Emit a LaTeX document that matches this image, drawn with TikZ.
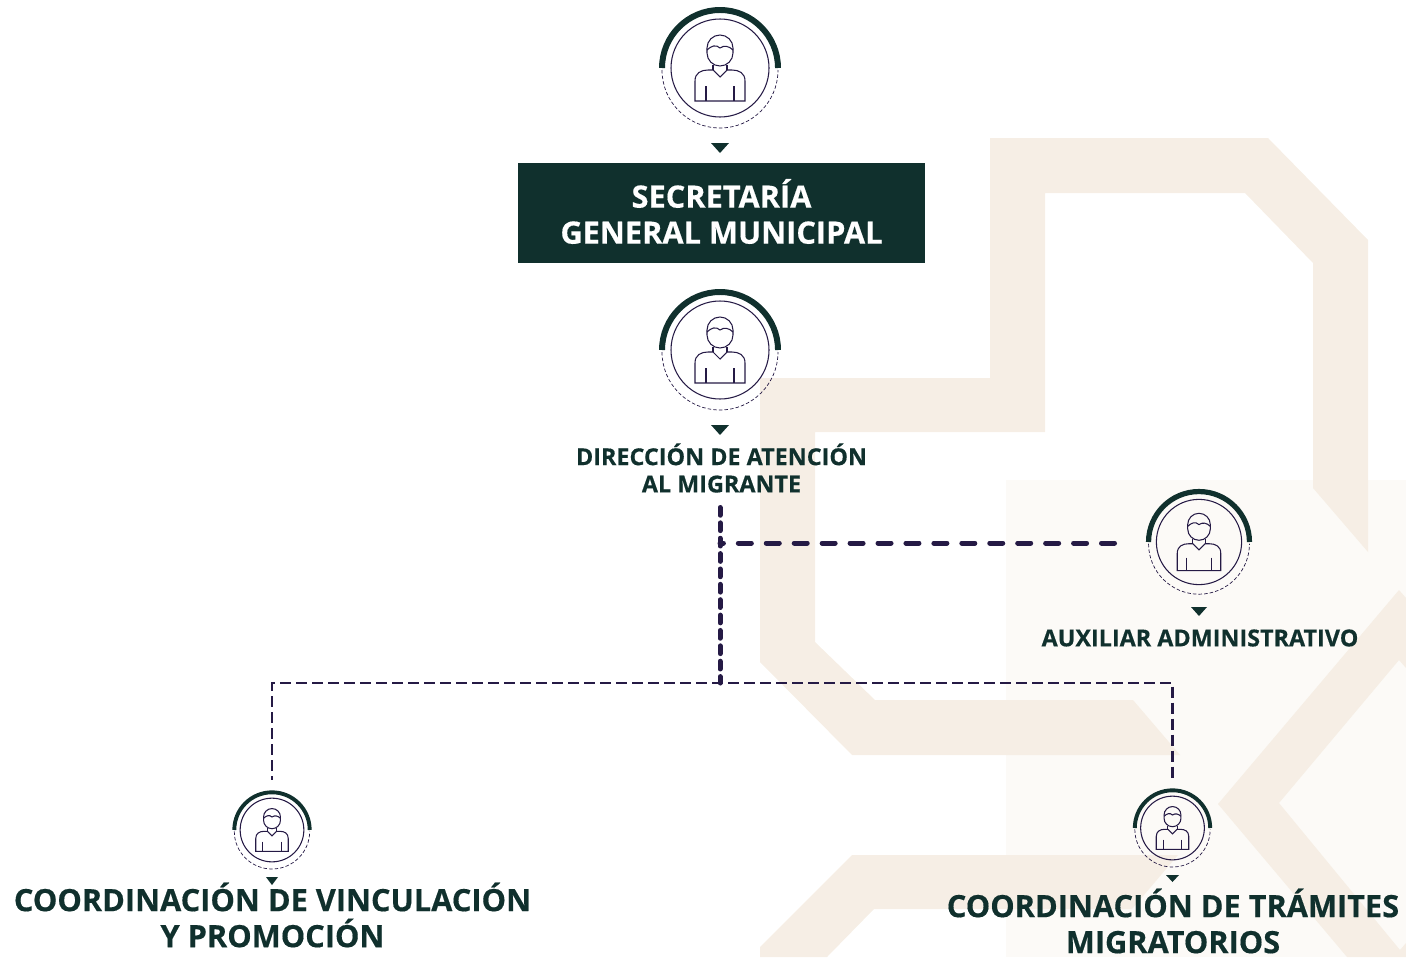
\documentclass[tikz,border=0pt]{standalone}
\usepackage{fontspec}
\setmainfont[BoldFeatures={FakeBold=0.4}]{Open Sans}
\definecolor{pine}{HTML}{10302D}
\definecolor{ink}{HTML}{251A45}
\definecolor{sand}{HTML}{F6EEE5}
\definecolor{paper}{HTML}{FCFAF7}
\tikzset{
  title/.style = {text=pine, font=\bfseries, align=center, inner sep=0pt},
  bigtitle/.style = {title, font=\bfseries\fontsize{17.5}{20.5}\selectfont},
  smalltitle/.style = {title, font=\bfseries\fontsize{13.3}{15.5}\selectfont},
  pointer/.style = {fill=pine, draw=none},
  link/.style = {ink, line width=1.6pt},
  boldlink/.style = {ink, line width=2.85pt, line cap=round},
  figure/.style = {ink, line width=0.6pt},
}
% person badge: centre x, centre y, scale
\newcommand{\badge}[3]{
  \begin{scope}[shift={(#1,#2)}, scale=#3]
    \draw[pine, line width=#3*3.4pt] (-58,0) arc (180:360:58);
    \draw[ink, line width=0.4pt, dash pattern=on 2pt off 1.2pt] (-58,2) arc (180:0:58);
    \draw[ink, line width=0.6pt] (0,0) circle (49);
    % head and hair
    \draw[figure] (-13,-15) arc (180:0:13) -- (13,-20) arc (360:180:13) -- cycle;
    \draw[figure] (-13,-18) .. controls (-9,-22) and (-4,-24) .. (0,-20) .. controls (4,-23) and (9,-22) .. (13,-18);
    % body
    \draw[figure] (-25,33) -- (-25,13) .. controls (-25,5) and (-19,2) .. (-12,2) -- (-7,2) -- (0,9) -- (7,2) -- (12,2) .. controls (19,2) and (25,5) .. (25,13) -- (25,33) -- cycle;
    \draw[figure] (-7,-3) -- (-7,2) (7,-3) -- (7,2) (-14,18) -- (-14,33) (14,18) -- (14,33);
  \end{scope}
}
\begin{document}
\begin{tikzpicture}[x=0.02cm, y=-0.02cm]
  \useasboundingbox (0,0) rectangle (1406,957);

  % backdrop
  \fill[paper] (1006,480) rectangle (1406,957);
  \fill[sand] (990,138) -- (1268,138) -- (1368,240) -- (1368,552) -- (1313,488) -- (1313,263) -- (1245,193) -- (1045,193) -- (1045,432) -- (815,432) -- (815,642) -- (875,700) -- (1133,700) -- (1180,755) -- (852,755) -- (760,662) -- (760,378) -- (990,378) -- cycle;
  \fill[sand] (760,947) -- (852,855) -- (1178,855) -- (1132,909) -- (874,909) -- (827,957) -- (760,957) -- cycle;
  \fill[sand] (1399,590) -- (1218,804) -- (1347,957) -- (1406,957) -- (1406,943) -- (1400,950) -- (1279,803) -- (1399,660) -- (1406,668) -- (1406,598) -- cycle;

  % badges
  \badge{720}{68}{1}
  \badge{720}{350}{1}
  \badge{1199}{542}{0.87}
  \badge{272}{830}{0.65}
  \badge{1172.5}{828}{0.65}

  % pointers
  \fill[pointer] (711,143) -- (729,143) -- (720,153) -- cycle;
  \fill[pointer] (711,425) -- (729,425) -- (720,435) -- cycle;
  \fill[pointer] (1191,607) -- (1207,607) -- (1199,616) -- cycle;
  \fill[pointer] (266,877) -- (278,877) -- (272,885) -- cycle;
  \fill[pointer] (1166,875) -- (1179,875) -- (1172.5,882) -- cycle;

  % titles
  \node[fill=pine, minimum width=8.14cm, minimum height=2cm, inner sep=0pt] (box) at (721.5,213) {};
  \node[bigtitle, text=white] (secretaria) at (721.5,211.5) {SECRETARÍA\\GENERAL MUNICIPAL};
  \node[smalltitle] (direccion) at (721.5,468) {DIRECCIÓN DE ATENCIÓN\\AL MIGRANTE};
  \node[smalltitle] (auxiliar) at (1200,638) {AUXILIAR ADMINISTRATIVO};
  \node[bigtitle] (vinculacion) at (272.5,915) {COORDINACIÓN DE VINCULACIÓN\\Y PROMOCIÓN};
  \node[bigtitle] (tramites) at (1173,921) {COORDINACIÓN DE TRÁMITES\\MIGRATORIOS};

  % connectors
  \coordinate (top) at (720,507.5);
  \coordinate (fork) at (720,683);
  \coordinate (mid) at (720,543);
  \coordinate (auxend) at (1114.5,543);
  \coordinate (left) at (272,683);
  \coordinate (leftend) at (272,780);
  \coordinate (right) at (1172.5,683);
  \coordinate (rightend) at (1172.5,778);
  \draw[boldlink, dash pattern=on 4.4pt off 4.35pt] (top) -- (fork);
  \draw[boldlink, dash pattern=on 7.4pt off 8.5pt] (auxend) -- (mid);
  \draw[link, dash pattern=on 6.26pt off 2.85pt, dash phase=1.7pt] (fork) -- (left) -- (leftend);
  \draw[link, dash pattern=on 6.26pt off 2.85pt, dash phase=4.55pt] (fork) -- (right) -- (rightend);
\end{tikzpicture}
\end{document}
